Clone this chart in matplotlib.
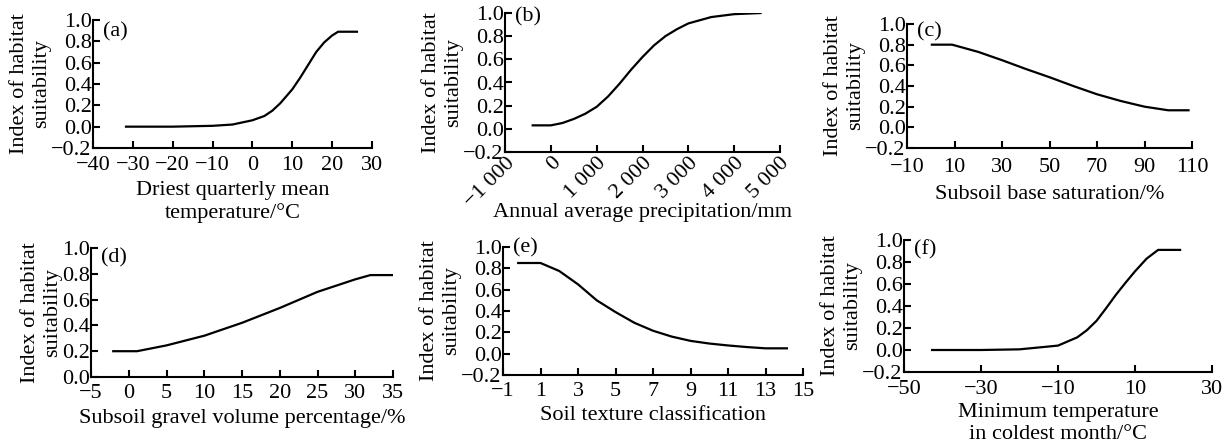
import matplotlib
matplotlib.use("Agg")
import matplotlib.pyplot as plt

plt.rcParams['font.family'] = ['Liberation Serif', 'DejaVu Serif']
plt.rcParams['axes.unicode_minus'] = True

# ---------------- data ----------------
a_x = [-32, -20, -10, -5, 0, 3, 5, 7, 10, 12, 14, 16, 18, 20, 21.5, 26.5]
a_y = [0.0, 0.0, 0.008, 0.02, 0.06, 0.10, 0.15, 0.22, 0.35, 0.46, 0.58, 0.70, 0.79, 0.855, 0.89, 0.89]

b_x = [-420, 0, 250, 500, 750, 1000, 1250, 1500, 1750, 2000, 2250, 2500, 2750, 3000, 3500, 4000, 4600]
b_y = [0.03, 0.03, 0.05, 0.085, 0.13, 0.19, 0.28, 0.39, 0.51, 0.62, 0.72, 0.80, 0.86, 0.91, 0.965, 0.99, 1.0]

c_x = [0, 9, 20, 30, 40, 50, 60, 70, 80, 90, 100, 109]
c_y = [0.80, 0.80, 0.73, 0.65, 0.565, 0.485, 0.40, 0.32, 0.255, 0.20, 0.165, 0.165]

d_x = [-2.2, 1.1, 5, 10, 15, 20, 25, 30, 32, 35]
d_y = [0.20, 0.20, 0.245, 0.32, 0.42, 0.535, 0.66, 0.757, 0.79, 0.79]

e_x = [-0.25, 1, 2, 3, 4, 5, 6, 7, 8, 9, 10, 11, 12, 13, 14.2]
e_y = [0.85, 0.85, 0.775, 0.65, 0.50, 0.39, 0.29, 0.215, 0.16, 0.12, 0.095, 0.077, 0.062, 0.05, 0.05]

f_x = [-43, -30, -20, -10, -5, -2.5, 0, 2.5, 5, 7.5, 10, 13, 16, 22]
f_y = [0.0, 0.0, 0.006, 0.04, 0.115, 0.18, 0.265, 0.38, 0.50, 0.61, 0.715, 0.83, 0.91, 0.91]

a_ticks = [-40, -30, -20, -10, 0, 10, 20, 30]
b_ticks = [-1000, 0, 1000, 2000, 3000, 4000, 5000]
b_ticklabels = ['\u22121 000', '0', '1 000', '2 000', '3 000', '4 000', '5 000']
c_ticks = [-10, 10, 30, 50, 70, 90, 110]
d_ticks = [-5, 0, 5, 10, 15, 20, 25, 30, 35]
e_ticks = [-1, 1, 3, 5, 7, 9, 11, 13, 15]
f_ticks = [-50, -30, -10, 10, 30]

y_ticks_full = [-0.2, 0.0, 0.2, 0.4, 0.6, 0.8, 1.0]
y_ticks_d = [0.0, 0.2, 0.4, 0.6, 0.8, 1.0]

ylabel = 'Index of habitat\nsuitability'

panels = [
    # rect px (left, top, right, bottom), x, y, xticks, xticklabels, yticks,
    # xlabel, tag, tag y (axes), xtick pad, xlabel pad
    ((93, 20, 372, 148), a_x, a_y, a_ticks, None, y_ticks_full,
     'Driest quarterly mean\ntemperature/\u00b0C', '(a)', 0.906, 6, 4),
    ((505, 13, 780, 152), b_x, b_y, b_ticks, b_ticklabels, y_ticks_full,
     'Annual average precipitation/mm', '(b)', 0.971, 1, -6),
    ((907, 24, 1192, 148), c_x, c_y, c_ticks, None, y_ticks_full,
     'Subsoil base saturation/%', '(c)', 0.935, 7, 6),
    ((91, 248, 393, 377), d_x, d_y, d_ticks, None, y_ticks_d,
     'Subsoil gravel volume percentage/%', '(d)', 0.922, 5, 4),
    ((503, 247, 803, 375), e_x, e_y, e_ticks, None, y_ticks_full,
     'Soil texture classification', '(e)', 0.99, 5, 4),
    ((904, 240, 1212, 372), f_x, f_y, f_ticks, None, y_ticks_full,
     'Minimum temperature\nin coldest month/\u00b0C', '(f)', 0.924, 6, 3),
]

W, H = 1224, 445
fig = plt.figure(figsize=(W / 100, H / 100), dpi=100)
fs = 16

for (l, t, r, b), xs, ys, xt, xtl, yt, xl, tag, tag_y, xpad, lpad in panels:
    ax = fig.add_axes([l / W, 1 - b / H, (r - l) / W, (b - t) / H])
    ax.plot(xs, ys, color='black', lw=1.6, solid_capstyle='butt')
    ax.set_xlim(xt[0], xt[-1])
    ax.set_ylim(yt[0], yt[-1])
    ax.set_xticks(xt)
    if xtl is not None:
        ax.set_xticklabels(xtl, rotation=45, ha='right', va='top',
                           rotation_mode='anchor', fontsize=fs - 1)
    else:
        ax.set_xticklabels([('\u2212' + str(abs(v))) if v < 0 else str(v) for v in xt])
    ax.set_yticks(yt)
    ax.set_yticklabels([('\u2212' if v < 0 else '') + f'{abs(v):.1f}' for v in yt])
    for s in ['top', 'right']:
        ax.spines[s].set_visible(False)
    for s in ['left', 'bottom']:
        ax.spines[s].set_linewidth(1.5)
    ax.tick_params(direction='in', length=5, width=1.5, labelsize=fs)
    ax.tick_params(axis='y', pad=1)
    ax.tick_params(axis='x', pad=xpad)
    ax.set_ylabel(ylabel, fontsize=fs, labelpad=0, linespacing=1.2)
    ax.set_xlabel(xl, fontsize=fs, labelpad=lpad, linespacing=1.2)
    ax.text(10 / (r - l), tag_y, tag, transform=ax.transAxes, fontsize=fs,
            ha='left', va='center')

fig.savefig('out.png', dpi=100)
